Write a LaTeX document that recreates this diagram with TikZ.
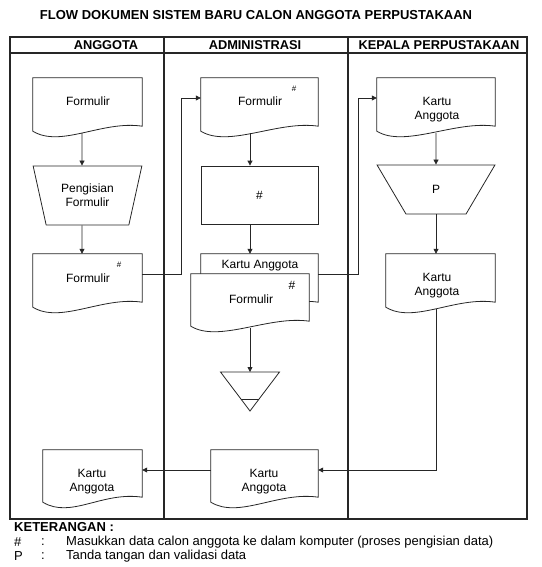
\documentclass[tikz,border=0pt]{standalone}
\usepackage{fontspec}
\setmainfont{Liberation Sans}
\usetikzlibrary{shapes.geometric,arrows.meta}

\tikzset{
	base/.style={line width=0.8pt, draw=black!85},
	lane/.style={line width=1.2pt, draw=black!85},
	doc/.style={inner sep=0pt, minimum width=#1, minimum height=48pt},
	doc/.default=109pt,
	proc/.style={base, rectangle, inner sep=0pt, font=\fontsize{12}{14}\selectfont},
	manual/.style={base, trapezium, shape border rotate=180, trapezium stretches=true,
		inner sep=0pt, align=center, font=\fontsize{12}{14}\selectfont},
	txt/.style={inner sep=0pt, align=center, font=\fontsize{12}{14}\selectfont},
	hashsm/.style={inner sep=0pt, font=\fontsize{8}{9}\selectfont},
	hdr/.style={inner sep=0pt, font=\bfseries\fontsize{12.8}{15}\selectfont},
	leg/.style={inner sep=0pt, anchor=west, font=\fontsize{13}{15}\selectfont},
	arr/.style={base, -{Triangle[length=5pt,width=5pt]}},
}

\newcommand\docwave[1]{%
	\draw[base, fill=white] (#1.south east) -- (#1.north east) -- (#1.north west)
		-- ([yshift=-5pt]#1.south west)
		.. controls ([xshift=28pt,yshift=-22pt]#1.south west) and ([xshift=-40pt,yshift=6pt]#1.south east) .. (#1.south east) -- cycle;}

\begin{document}
\begin{tikzpicture}[x=1pt,y=-1pt]
	\useasboundingbox (0,0) rectangle (541,567);

	\node[font=\bfseries\fontsize{13}{15}\selectfont, inner sep=0pt] (judul) at (256,15) {FLOW DOKUMEN SISTEM BARU CALON ANGGOTA PERPUSTAKAAN};

	\draw[lane] (10,37) rectangle (527,519);
	\draw[lane] (10,53) -- (527,53);
	\draw[lane] (164,37) -- (164,519);
	\draw[lane] (348,37) -- (348,519);

	\node[hdr] (h1) at (106,45) {ANGGOTA};
	\node[hdr] (h2) at (255,45) {ADMINISTRASI};
	\node[hdr] (h3) at (439,45) {KEPALA PERPUSTAKAAN};

	% anggota
	\node[doc] (a1) at (87.5,102) {};
	\docwave{a1}
	\node[txt] (a1t) at (88,101) {Formulir};
	\node[manual, trapezium left angle=70, trapezium right angle=70,
		minimum width=109pt, minimum height=59pt] (t1) at (87.5,195.5) {Pengisian\\Formulir};
	\node[doc] (a2) at (87.5,278) {};
	\docwave{a2}
	\node[txt] (a2t) at (88,278) {Formulir};
	\node[hashsm] (a2h) at (119,265) {\#};
	\node[doc=99pt, minimum height=47pt] (a3) at (92.5,473.5) {};
	\docwave{a3}
	\node[txt] (a3t) at (92,482) {Kartu\\Anggota};

	% administrasi
	\node[doc=117pt] (b1) at (259.5,102) {};
	\docwave{b1}
	\node[txt] (b1t) at (260,101) {Formulir};
	\node[hashsm] (b1h) at (294,89) {\#};
	\node[proc, minimum width=117pt, minimum height=58pt] (b2) at (259.5,195) {\#};
	\node[doc=117pt] (b3) at (259.5,278) {};
	\docwave{b3}
	\node[txt] (b3t) at (260,266) {Kartu Anggota};
	\node[doc=118pt, minimum height=47pt] (b4) at (250,297.5) {};
	\docwave{b4}
	\node[txt] (b4t) at (251,299) {Formulir};
	\node[txt] (b4h) at (292,285) {\#};
	\coordinate (arsip) at (250,372);
	\draw[base] (arsip) ++(-29.5,0) -- ++(59,0) -- (250,411) -- cycle;
	\draw[base] (241,399) -- (259,399);
	\node[doc=107pt, minimum height=47pt] (b5) at (264.5,473.5) {};
	\docwave{b5}
	\node[txt] (b5t) at (264,482) {Kartu\\Anggota};

	% kepala perpustakaan
	\node[doc=118pt] (c1) at (436,102) {};
	\docwave{c1}
	\node[txt] (c1t) at (437,110) {Kartu\\Anggota};
	\node[manual, trapezium left angle=65, trapezium right angle=65,
		minimum width=118pt, minimum height=49pt] (c2) at (436,189.5) {P};
	\node[doc] (c3) at (440.5,278) {};
	\docwave{c3}
	\node[txt] (c3t) at (437,286) {Kartu\\Anggota};

	\draw[arr] ([xshift=-5.5pt,yshift=-7pt]a1.south) -- ([xshift=-5.5pt]t1.north);
	\draw[arr] ([xshift=-5.5pt]t1.south) -- ([xshift=-5.5pt]a2.north);
	\draw[arr] ([yshift=4pt]a2.east) -- ++(39,0) |- ([yshift=4pt]b1.west);
	\draw[arr] ([xshift=-9.5pt,yshift=-7pt]b1.south) -- ([xshift=-9.5pt]b2.north);
	\draw[arr] ([xshift=-9.5pt]b2.south) -- ([xshift=-9.5pt]b3.north);
	\draw[arr] ([yshift=4pt]b3.east) -- ++(40,0) |- ([yshift=4pt]c1.west);
	\draw[arr] ([yshift=-7pt]b4.south) -- (arsip);
	\draw[arr] ([yshift=-7pt]c1.south) -- (c2.north);
	\draw[arr] (c2.south) -- (c2.south |- c3.north);
	\draw[arr] ([xshift=-4pt,yshift=-7pt]c3.south) |- ([yshift=3.5pt]b5.east);
	\draw[arr] ([yshift=3.5pt]b5.west) -- ([yshift=3.5pt]a3.east);

	\node[leg, font=\bfseries\fontsize{13}{15}\selectfont] (ket) at (14,527) {KETERANGAN :};
	\node[leg] (k1) at (14,542) {\#};
	\node[leg] (k1c) at (41,542) {:};
	\node[leg] (k1t) at (66,542) {Masukkan data calon anggota ke dalam komputer (proses pengisian data)};
	\node[leg] (k2) at (14,556) {P};
	\node[leg] (k2c) at (41,556) {:};
	\node[leg] (k2t) at (66,556) {Tanda tangan dan validasi data};
\end{tikzpicture}
\end{document}
